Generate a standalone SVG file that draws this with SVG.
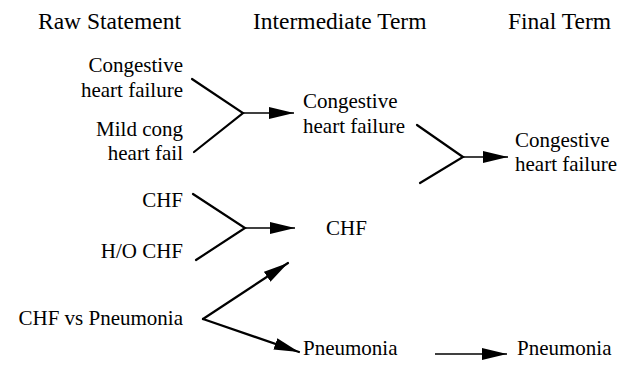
<svg xmlns="http://www.w3.org/2000/svg" width="631" height="366" viewBox="0 0 631 366">
<style>
text{font-family:'Liberation Serif','Times New Roman',serif;fill:#000}
.h{font-size:23.5px}
.t{font-size:21px}
.r{text-anchor:end}
.ln{stroke:#000;stroke-width:2.2;fill:none;stroke-linecap:round}
.sh{stroke:#000;stroke-width:1.6;fill:none}
</style>
<defs>
<marker id="ah" markerUnits="userSpaceOnUse" markerWidth="26" markerHeight="14" viewBox="0 0 26 14" refX="25" refY="7" orient="auto">
<path d="M0,1 L25,7 L0,13 Z" fill="#000"/>
</marker>
</defs>
<rect width="631" height="366" fill="#fff"/>
<g id="headers">
<text class="h" x="38" y="29">Raw Statement</text>
<text class="h" x="253" y="29">Intermediate Term</text>
<text class="h" x="508" y="29">Final Term</text>
</g>
<g id="raw-chf-long"><text class="t r" x="183" y="72">Congestive</text><text class="t r" x="183" y="97">heart failure</text></g>
<g id="raw-mild"><text class="t r" x="183" y="136">Mild cong</text><text class="t r" x="183" y="160">heart fail</text></g>
<g id="raw-chf"><text class="t r" x="183" y="207">CHF</text></g>
<g id="raw-ho"><text class="t r" x="183" y="258">H/O CHF</text></g>
<g id="raw-vs"><text class="t r" x="183" y="325">CHF vs Pneumonia</text></g>
<g id="int-chf-long"><text class="t" x="303" y="108">Congestive</text><text class="t" x="303" y="133">heart failure</text></g>
<g id="int-chf"><text class="t" x="326" y="235">CHF</text></g>
<g id="int-pneu"><text class="t" x="303" y="355">Pneumonia</text></g>
<g id="fin-chf"><text class="t" x="515" y="147">Congestive</text><text class="t" x="515" y="171">heart failure</text></g>
<g id="fin-pneu"><text class="t" x="517" y="355">Pneumonia</text></g>
<g id="connectors">
<path class="ln" d="M192,79 L243,113 L194,152"/>
<path class="sh" d="M243,113 L294,113" marker-end="url(#ah)"/>
<path class="ln" d="M417,125 L463,157 L420,183"/>
<path class="sh" d="M463,157 L508,157" marker-end="url(#ah)"/>
<path class="ln" d="M193,194 L245,228 L196,260"/>
<path class="sh" d="M245,228 L295,228" marker-end="url(#ah)"/>
<path class="ln" d="M203,319 L288,263" marker-end="url(#ah)"/>
<path class="ln" d="M203,319 L299,352" marker-end="url(#ah)"/>
<path class="sh" d="M435,354 L507,354" marker-end="url(#ah)"/>
</g>
</svg>
